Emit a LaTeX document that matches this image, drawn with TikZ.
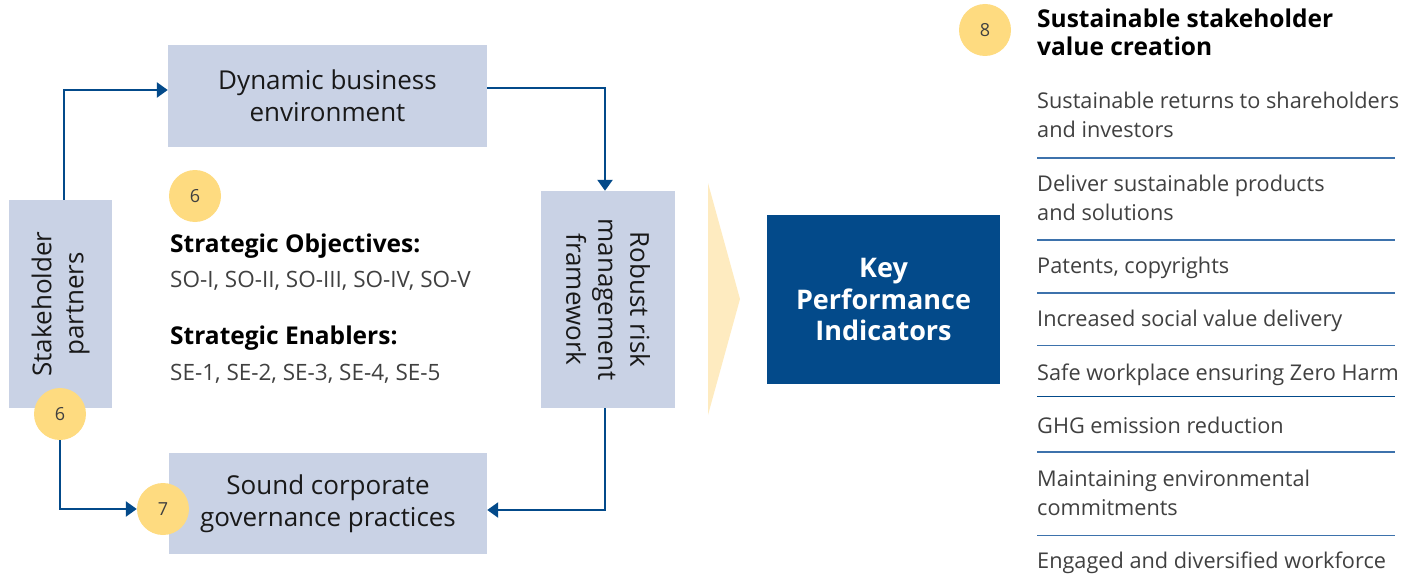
\documentclass[tikz,border=0pt]{standalone}
\usepackage{fontspec}
\setmainfont{Open Sans}
\usetikzlibrary{arrows.meta}
\definecolor{boxblue}{HTML}{C9D2E5}
\definecolor{darkblue}{HTML}{034A8A}
\definecolor{circ}{HTML}{FEDB80}
\definecolor{chev}{HTML}{FEEBC0}
\definecolor{sep}{HTML}{3D72AC}
\definecolor{txtgrey}{HTML}{404040}
\tikzset{
  lbox/.style={fill=boxblue, inner sep=0pt, align=center, font=\fontsize{26}{32}\selectfont, text=black!90},
  badge/.style={circle, fill=circ, minimum size=52pt, inner sep=0pt, font=\fontsize{18}{20}\selectfont, text=txtgrey},
  arr/.style={draw=darkblue, line width=2.4pt, -{Triangle[length=11pt,width=15pt]}},
  item/.style={anchor=north west, inner sep=0pt, align=left, text=txtgrey, font=\fontsize{21.7}{29}\selectfont},
  sepline/.style={draw=sep, line width=1.3pt},
  strat/.style={anchor=west, inner sep=0pt, font=\fontsize{22.5}{24}\selectfont},
  stratb/.style={anchor=west, inner sep=0pt, font=\fontsize{24.5}{26}\selectfont\bfseries},
}
\begin{document}
\begin{tikzpicture}[x=1pt,y=-1pt]
\useasboundingbox (0,0) rectangle (1416,575);
% boxes
\node[lbox, minimum width=319pt, minimum height=102pt] (dyn) at (327.5,96) {Dynamic business\\environment};
\node[lbox, minimum width=208pt, minimum height=103pt, rotate=90] (stake) at (60.5,304) {Stakeholder\\partners};
\node[lbox, minimum width=217pt, minimum height=134pt, rotate=-90] (risk) at (608,299.5) {Robust risk\\management\\framework};
\node[lbox, minimum width=318pt, minimum height=101pt] (sound) at (328,503.5) {Sound corporate\\governance practices};
% chevron
\fill[chev] (708,183) -- (740,299) -- (708,415) -- cycle;
% KPI
\node[fill=darkblue, minimum width=233pt, minimum height=169pt, inner sep=0pt, align=center, text=white, font=\fontsize{27}{31.5}\selectfont\bfseries] (kpi) at (883.5,299.5) {Key\\Performance\\Indicators};
% badges
\node[badge] (c6a) at (195,196) {6};
\node[badge] (c6b) at (60,414) {6};
\node[badge] (c7) at (163,509) {7};
\node[badge] (c8) at (985,30) {8};
% arrows
\draw[arr] ([xshift=3.5pt]stake.east) |- ([yshift=6pt]dyn.west);
\draw[arr] ([yshift=8pt]dyn.east) -| ([xshift=-3pt]risk.west);
\draw[arr] ([xshift=-3pt]risk.east) |- ([yshift=-6.5pt]sound.east);
\draw[arr] (c6b.south) |- (c7.west);
% strategic text
\node[stratb] (so) at (170,246) {Strategic Objectives:};
\node[strat, text=txtgrey] (sol) at (170,281) {SO-I, SO-II, SO-III, SO-IV, SO-V};
\node[stratb] (se) at (170,338) {Strategic Enablers:};
\node[strat, text=txtgrey] (sel) at (170,374) {SE-1, SE-2, SE-3, SE-4, SE-5};
% right column
\node[anchor=north west, inner sep=0pt, align=left, font=\fontsize{24.5}{28}\selectfont\bfseries] (head) at (1037,9) {Sustainable stakeholder\\value creation};
\node[item] (i1) at (1037,92) {Sustainable returns to shareholders\\and investors};
\draw[sepline] (1037,158) -- (1395,158);
\node[item] (i2) at (1037,175) {Deliver sustainable products\\and solutions};
\draw[sepline] (1037,240) -- (1395,240);
\node[item] (i3) at (1037,257) {Patents, copyrights};
\draw[sepline] (1037,293) -- (1395,293);
\node[item] (i4) at (1037,310) {Increased social value delivery};
\draw[sepline] (1037,345.5) -- (1395,345.5);
\node[item] (i5) at (1037,364) {Safe workplace ensuring Zero Harm};
\draw[sepline, draw=darkblue] (1037,396.5) -- (1395,396.5);
\node[item] (i6) at (1037,417) {GHG emission reduction};
\draw[sepline] (1037,452) -- (1395,452);
\node[item] (i7) at (1037,470) {Maintaining environmental\\commitments};
\draw[sepline] (1037,535.5) -- (1395,535.5);
\node[item] (i8) at (1037,552) {Engaged and diversified workforce};
\end{tikzpicture}
\end{document}
